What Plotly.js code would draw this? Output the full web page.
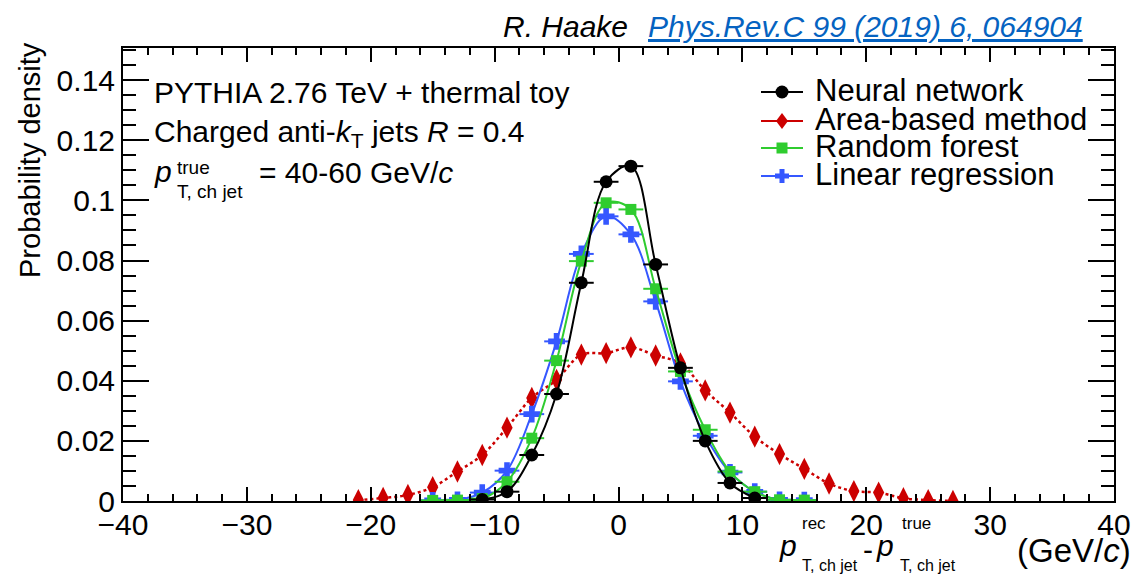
<!DOCTYPE html>
<html>
<head>
<meta charset="utf-8">
<script src="https://cdn.plot.ly/plotly-3.0.1.min.js"></script>
<style>html,body{margin:0;padding:0;background:#fff;}#chart{width:1137px;height:581px;}</style>
</head>
<body>
<div id="chart"></div>
<script>
// ---- data ----
const seriesNames = ['Neural network', 'Area-based method', 'Random forest', 'Linear regression'];

const xNN = [-11, -9, -7, -5, -3, -1, 1, 3, 5, 7, 9, 11];
const yNN = [0.0005, 0.0031, 0.0153, 0.0356, 0.0726, 0.1062, 0.1114, 0.0787, 0.0443, 0.0200, 0.0060, 0.0010];

const xArea = [-21, -19, -17, -15, -13, -11, -9, -7, -5, -3, -1, 1, 3, 5, 7, 9, 11, 13, 15, 17, 19, 21, 23, 25, 27];
const yArea = [0.0003, 0.0010, 0.0020, 0.0046, 0.0098, 0.0153, 0.0244, 0.0343, 0.0403, 0.0487, 0.0492, 0.0511, 0.0484, 0.0458, 0.0368, 0.0294, 0.0214, 0.0156, 0.0107, 0.0058, 0.0033, 0.0028, 0.0009, 0.0003, 0.0000];

const xRF = [-15, -13, -11, -9, -7, -5, -3, -1, 1, 3, 5, 7, 9, 11, 13, 15];
const yRF = [0.0002, 0.0003, 0.0008, 0.0064, 0.0209, 0.0467, 0.0798, 0.0992, 0.0970, 0.0706, 0.0431, 0.0237, 0.0098, 0.0031, 0.0004, 0.0003];

const xLR = [-15, -13, -11, -9, -7, -5, -3, -1, 1, 3, 5, 7, 9, 11, 13, 15];
const yLR = [0.0002, 0.0004, 0.0028, 0.0101, 0.0289, 0.0531, 0.0822, 0.0947, 0.0887, 0.0664, 0.0398, 0.0217, 0.0095, 0.0031, 0.0004, 0.0003];

const xTickVals = [-40, -30, -20, -10, 0, 10, 20, 30, 40];
const yTickVals = [0, 0.02, 0.04, 0.06, 0.08, 0.1, 0.12, 0.14];

// ---- styling ----
const C_BLACK = '#000000', C_RED = '#cc0000', C_GREEN = '#2fcc2f', C_BLUE = '#3557ff';
const FONT = '"Liberation Sans", Arial, Helvetica, sans-serif';
const W = 1137, H = 581;
const L = 123, R = 1114, T = 48, B = 501;
function px(x) { return (x - L) / (R - L); }
function py(y) { return (B - y) / (B - T); }

function binTrace(x, y, name, color, symbol, size, lineStyle, withErr) {
  return {
    x: x, y: y, name: name, type: 'scatter', mode: 'lines+markers',
    line: Object.assign({color: color, width: 2, shape: 'spline', smoothing: 1}, lineStyle || {}),
    marker: {color: color, symbol: symbol, size: size, line: {width: 0}},
    error_x: withErr ? {type: 'constant', value: 1, width: 0, thickness: 2, color: color} : {visible: false},
    showlegend: false, cliponaxis: true, hoverinfo: 'x+y'
  };
}

const traces = [
  binTrace(xArea, yArea, seriesNames[1], C_RED, 'diamond-tall', 16, {dash: 'dot', width: 2.5}, false),
  binTrace(xLR, yLR, seriesNames[3], C_BLUE, 'cross', 14, null, true),
  binTrace(xRF, yRF, seriesNames[2], C_GREEN, 'square', 11, null, true),
  binTrace(xNN, yNN, seriesNames[0], C_BLACK, 'circle', 13, null, true)
];

function ann(text, x, y, opts) {
  return Object.assign({
    text: text, x: px(x), y: py(y), xref: 'paper', yref: 'paper',
    showarrow: false, xanchor: 'left', yanchor: 'middle', borderpad: 0,
    font: {family: FONT, size: 30, color: '#000'}
  }, opts || {});
}
const SUBF = {family: FONT, size: 19, color: '#000'};
const SUBX = {family: FONT, size: 16, color: '#000'};
const HEADF = '"Liberation Sans Narrow", "Liberation Sans", Arial, sans-serif';

const annotations = [
  // header citation
  ann('R. Haake', 629, 27, {xanchor: 'right', font: {family: HEADF, size: 30, color: '#000', style: 'italic'}}),
  ann('Phys.Rev.C 99 (2019) 6, 064904', 1084, 27, {xanchor: 'right', font: {family: HEADF, size: 30, color: '#0563c1', style: 'italic', lineposition: 'under'}}),
  // info text
  ann('PYTHIA 2.76 TeV + thermal toy', 153, 93),
  ann('Charged anti-<i>k</i><sub>T</sub> jets <i>R</i> = 0.4', 153, 133),
  ann('<i>p</i>', 153, 171),
  ann('true', 176, 167, {font: SUBF}),
  ann('T, ch jet', 176, 192, {font: SUBF}),
  ann('= 40-60 GeV/<i>c</i>', 258, 172),
  // y title
  ann('Probability density', 30, 160, {xanchor: 'center', textangle: -90, font: {family: FONT, size: 29, color: '#000'}}),
  // x title
  ann('<i>p</i>', 778, 545),
  ann('rec', 801, 523, {font: {family: FONT, size: 17, color: '#000'}}),
  ann('T, ch jet', 801, 565, {font: SUBX}),
  ann('-', 862, 549, {font: {family: FONT, size: 30, color: '#000'}}),
  ann('<i>p</i>', 875, 545),
  ann('true', 901, 523, {font: {family: FONT, size: 17, color: '#000'}}),
  ann('T, ch jet', 899, 565, {font: SUBX}),
  ann('(GeV/<i>c</i>)', 1132, 550, {xanchor: 'right', font: {family: FONT, size: 33, color: '#000'}})
];

// custom legend (ROOT-like compact spacing)
const legendRows = [92, 121, 148, 176];
const legendColors = [C_BLACK, C_RED, C_GREEN, C_BLUE];
const shapes = [];
const markerPaths = [
  null,
  'M0,8 L6,0 L0,-8 L-6,0 Z',
  'M-5.5,-5.5 L5.5,-5.5 L5.5,5.5 L-5.5,5.5 Z',
  'M-2.5,-7 L2.5,-7 L2.5,-2.5 L7,-2.5 L7,2.5 L2.5,2.5 L2.5,7 L-2.5,7 L-2.5,2.5 L-7,2.5 L-7,-2.5 L-2.5,-2.5 Z'
];
legendRows.forEach(function (ry, i) {
  const c = legendColors[i];
  shapes.push({type: 'line', xref: 'paper', yref: 'paper', x0: px(761), x1: px(803), y0: py(ry), y1: py(ry), line: {color: c, width: 2}});
  if (i === 0) {
    shapes.push({type: 'circle', xref: 'paper', yref: 'paper', xsizemode: 'pixel', ysizemode: 'pixel',
      xanchor: px(782), yanchor: py(ry), x0: -6.5, x1: 6.5, y0: -6.5, y1: 6.5, fillcolor: c, line: {width: 0}});
  } else {
    shapes.push({type: 'path', xref: 'paper', yref: 'paper', xsizemode: 'pixel', ysizemode: 'pixel',
      xanchor: px(782), yanchor: py(ry), path: markerPaths[i], fillcolor: c, line: {width: 0}});
  }
  annotations.push(ann(seriesNames[i], 814, ry - 2, {font: {family: FONT, size: 31, color: '#000'}}));
});

const axisCommon = {
  showgrid: false, zeroline: false, showline: true, linecolor: '#000', linewidth: 2,
  mirror: 'ticks', ticks: 'inside', tickcolor: '#000', tickwidth: 2,
  tickfont: {family: FONT, size: 30, color: '#000'}, fixedrange: true
};

const layout = {
  width: W, height: H,
  margin: {l: L, r: W - R, t: T, b: H - B, pad: 0},
  paper_bgcolor: '#fff', plot_bgcolor: '#fff',
  showlegend: false,
  xaxis: Object.assign({}, axisCommon, {
    range: [-40, 40], tickmode: 'array', tickvals: xTickVals, ticklen: 14, ticklabelstandoff: -4,
    minor: {dtick: 2, tick0: 0, ticks: 'inside', ticklen: 7, tickwidth: 2, tickcolor: '#000', showgrid: false}
  }),
  yaxis: Object.assign({}, axisCommon, {
    range: [0, 0.1507], tickmode: 'array', tickvals: yTickVals, ticklen: 26,
    minor: {dtick: 0.005, tick0: 0, ticks: 'inside', ticklen: 13, tickwidth: 2, tickcolor: '#000', showgrid: false}
  }),
  annotations: annotations,
  shapes: shapes
};

Plotly.newPlot('chart', traces, layout, {displayModeBar: false, staticPlot: true});
</script>
</body>
</html>
